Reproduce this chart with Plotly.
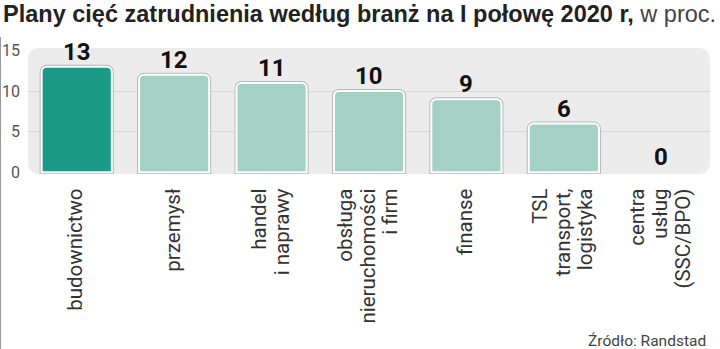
import plotly.graph_objects as go

categories = ["budownictwo", "przemysł", "handel<br>i naprawy", "obsługa<br>nieruchomości<br>i firm",
              "finanse", "TSL<br>transport,<br>logistyka", "centra<br>usług<br>(SSC/BPO)"]
values = [13, 12, 11, 10, 9, 6, 0]
bar_colors = ["#1a9a87", "#a4d1c4", "#a4d1c4", "#a4d1c4", "#a4d1c4", "#a4d1c4", "#a4d1c4"]
y_ticks = [0, 5, 10, 15]
title_bold = "Plany cięć zatrudnienia według branż na I połowę 2020 r,"
title_rest = " w proc."
source = "Źródło: Randstad"

W, H = 720, 349
ML, MR, MT = 28, 10, 48
y_range = [-0.2, 15.3]
px_per_unit = 8.1
plot_h = (y_range[1] - y_range[0]) * px_per_unit
MB = H - MT - plot_h
plot_w = W - ML - MR

def px_to_paper_x(px):
    return (px - ML) / plot_w

def px_to_paper_y(py):
    return (MT + plot_h - py) / plot_h

x = list(range(len(categories)))
ticktext = ['<span style="font-size:20.5px">' + c + '</span>' for c in categories]
line_w_back = [0 if v == 0 else 4 for v in values]
line_w_front = [0 if v == 0 else 2 for v in values]

fig = go.Figure()
fig.add_trace(go.Bar(
    x=x, y=values, width=0.72,
    marker=dict(color=bar_colors, line=dict(color="#b9b9b9", width=line_w_back), cornerradius=5),
    hoverinfo="skip", showlegend=False,
))
fig.add_trace(go.Bar(
    x=x, y=values, width=0.72,
    marker=dict(color=bar_colors, line=dict(color="#ffffff", width=line_w_front), cornerradius=5),
    hoverinfo="skip", showlegend=False,
))

# value labels above bars
value_annotations = [
    dict(x=xi, y=v, xref="x", yref="y", text=str(v), showarrow=False,
         xanchor="center", yanchor="bottom", yshift=-1,
         font=dict(family="Roboto", size=24, color="#111111", weight="bold"))
    for xi, v in zip(x, values)
]

# rounded panel background
r = 12
rx, ry = r / plot_w, r / plot_h
path = (f"M {rx},0 L {1-rx},0 Q 1,0 1,{ry} L 1,{1-ry} Q 1,1 {1-rx},1 "
        f"L {rx},1 Q 0,1 0,{1-ry} L 0,{ry} Q 0,0 {rx},0 Z")
fig.add_shape(type="path", path=path, xref="paper", yref="paper",
              fillcolor="#ececec", line=dict(width=0), layer="below")
# left page border line
fig.add_shape(type="line", xref="paper", yref="paper",
              x0=px_to_paper_x(0.5), x1=px_to_paper_x(0.5),
              y0=px_to_paper_y(37), y1=px_to_paper_y(349),
              line=dict(color="#9a9a9a", width=1))

fig.update_layout(
    width=W, height=H,
    margin=dict(l=ML, r=MR, t=MT, b=MB, autoexpand=False),
    paper_bgcolor="white", plot_bgcolor="rgba(0,0,0,0)",
    barmode="overlay",
    font=dict(family="Roboto", color="#333333"),
    xaxis=dict(tickmode="array", tickvals=x, ticktext=ticktext, tickangle=-90,
               range=[-0.5, len(categories) - 0.5], showgrid=False, zeroline=False,
               showline=False, ticks="", ticklabelstandoff=10, automargin=False,
               tickfont=dict(family="Roboto", size=17.5, color="#333333")),
    yaxis=dict(range=y_range, tickvals=y_ticks, showgrid=False, zeroline=False,
               showline=False, ticks="", ticklabelstandoff=7, automargin=False,
               tickfont=dict(family="Roboto", size=16, color="#555555")),
    yaxis2=dict(range=y_range, overlaying="y", tickvals=[5, 10], showgrid=True,
                gridcolor="#d6d6d6", gridwidth=1, showticklabels=False, zeroline=False,
                showline=False, ticks="", automargin=False),
    title=dict(text=(f"<b>{title_bold}</b>"
                     f"<span style='color:#444'>{title_rest}</span>"),
               xref="container", yref="container", x=3 / W, xanchor="left",
               y=1 - 6 / H, yanchor="top", automargin=False,
               font=dict(family="Liberation Sans", size=23.5, color="#222222")),
    annotations=value_annotations + [
        dict(text=source, xref="paper", yref="paper",
             x=px_to_paper_x(708), y=px_to_paper_y(340),
             xanchor="right", yanchor="middle", showarrow=False,
             font=dict(family="Roboto", size=15.5, color="#444444"))],
)
fig.add_trace(go.Scatter(x=[None], y=[None], yaxis="y2", showlegend=False, hoverinfo="skip"))

fig.write_html("out.html")
